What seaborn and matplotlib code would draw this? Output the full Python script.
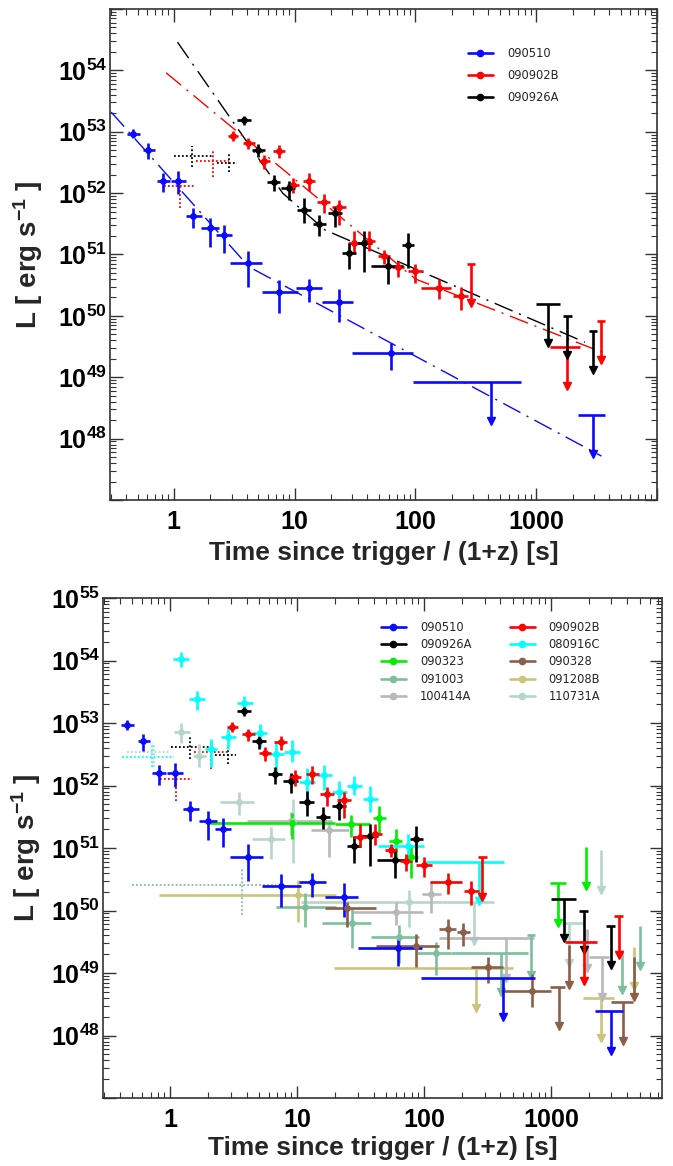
import numpy as np
import pandas as pd
import matplotlib
matplotlib.use("Agg")
import matplotlib.pyplot as plt
import seaborn as sns
from matplotlib.lines import Line2D
from matplotlib.ticker import FixedLocator, LogLocator, FuncFormatter, NullFormatter

# LAT afterglow luminosity light curves (rest-frame time).
# Detections: rows of log10 [t, t_lo, t_hi, L, L_lo, L_hi]   (t in s, L in erg/s)
# Upper limits: rows of log10 [t, t_lo, t_hi, L]             (t_lo..t_hi = bar width)

det_090510 = [
    [-0.337, -0.392, -0.282, 52.97, 52.89, 53.05],
    [-0.214, -0.256, -0.159, 52.71, 52.56, 52.82],
    [-0.087, -0.142, -0.037, 52.20, 52.01, 52.33],
    [0.036, -0.028, 0.097, 52.20, 51.98, 52.36],
    [0.159, 0.098, 0.228, 51.62, 51.43, 51.76],
    [0.297, 0.225, 0.372, 51.43, 51.13, 51.59],
    [0.413, 0.352, 0.477, 51.31, 51.02, 51.48],
    [0.612, 0.468, 0.731, 50.86, 50.47, 51.06],
    [0.870, 0.726, 1.031, 50.39, 50.05, 50.59],
    [1.116, 1.013, 1.227, 50.45, 50.22, 50.60],
    [1.366, 1.222, 1.482, 50.22, 49.90, 50.44],
    [1.797, 1.477, 1.983, 49.40, 49.11, 49.56],
]
ul_090510 = [
    [2.625, 1.980, 2.875, 48.925],
    [3.472, 3.347, 3.569, 48.39],
]

det_090902B = [
    [0.489, 0.447, 0.531, 52.93, 52.85, 53.01],
    [0.616, 0.569, 0.671, 52.82, 52.72, 52.90],
    [0.743, 0.701, 0.793, 52.52, 52.40, 52.62],
    [0.870, 0.820, 0.917, 52.69, 52.57, 52.79],
    [0.986, 0.936, 1.033, 52.14, 52.00, 52.25],
    [1.116, 1.066, 1.169, 52.19, 52.03, 52.32],
    [1.239, 1.184, 1.294, 51.86, 51.67, 51.98],
    [1.366, 1.311, 1.421, 51.77, 51.48, 51.89],
    [1.493, 1.438, 1.548, 51.18, 51.01, 51.38],
    [1.612, 1.557, 1.667, 51.22, 51.05, 51.39],
    [1.739, 1.689, 1.789, 50.97, 50.85, 51.07],
    [1.859, 1.809, 1.909, 50.79, 50.63, 50.90],
    [1.996, 1.936, 2.060, 50.73, 50.54, 50.85],
    [2.192, 2.048, 2.297, 50.46, 50.27, 50.60],
    [2.373, 2.312, 2.431, 50.32, 50.09, 50.47],
]
ul_090902B = [
    [2.458, 2.423, 2.493, 50.85],
    [3.258, 3.110, 3.360, 49.50],
    [3.536, 3.501, 3.571, 49.92],
]
dot_090902B = [
    [0.320, 0.186, 0.452, 52.53, 52.26, 52.69],
    [0.046, -0.080, 0.172, 52.11, 51.75, 52.20],
]

det_090926A = [
    [0.580, 0.525, 0.635, 53.19, 53.11, 53.26],
    [0.699, 0.644, 0.754, 52.71, 52.59, 52.80],
    [0.826, 0.771, 0.881, 52.18, 52.03, 52.30],
    [0.949, 0.888, 1.004, 52.08, 51.88, 52.20],
    [1.076, 1.018, 1.134, 51.73, 51.51, 51.92],
    [1.203, 1.148, 1.258, 51.50, 51.30, 51.65],
    [1.330, 1.272, 1.388, 51.67, 51.45, 51.78],
    [1.449, 1.394, 1.504, 51.03, 50.76, 51.19],
    [1.576, 1.514, 1.638, 51.19, 50.72, 51.39],
    [1.775, 1.631, 1.895, 50.81, 50.52, 50.97],
    [1.938, 1.888, 1.988, 51.15, 50.78, 51.35],
]
ul_090926A = [
    [3.100, 2.998, 3.195, 50.19],
    [3.258, 3.223, 3.293, 50.00],
    [3.472, 3.437, 3.507, 49.76],
]
dot_090926A = [
    [0.152, 0.004, 0.326, 52.61, 52.42, 52.77],
    [0.452, 0.354, 0.521, 52.49, 52.34, 52.64],
]

det_080916C = [
    [0.082, 0.024, 0.148, 54.02, 53.90, 54.14],
    [0.211, 0.149, 0.273, 53.39, 53.21, 53.51],
    [0.320, 0.270, 0.370, 52.58, 52.29, 52.75],
    [0.459, 0.399, 0.519, 52.78, 52.58, 52.92],
    [0.585, 0.527, 0.651, 53.32, 53.21, 53.43],
    [0.704, 0.644, 0.764, 52.84, 52.62, 52.99],
    [0.833, 0.773, 0.893, 52.51, 52.19, 52.70],
    [0.959, 0.899, 1.019, 52.54, 52.38, 52.73],
    [1.078, 1.018, 1.138, 52.06, 51.79, 52.28],
    [1.214, 1.154, 1.274, 52.17, 51.93, 52.33],
    [1.333, 1.273, 1.393, 51.90, 51.71, 52.08],
    [1.452, 1.392, 1.512, 52.00, 51.85, 52.15],
    [1.578, 1.518, 1.638, 51.79, 51.57, 52.00],
    [1.871, 1.640, 2.000, 51.04, 50.82, 51.22],
]
ul_080916C = [
    [2.435, 2.009, 2.632, 50.78],
]
dot_080916C = [
    [-0.144, -0.380, 0.028, 52.46, 52.30, 52.675],
]

det_090323 = [
    [0.962, 0.317, 1.300, 51.40, 51.14, 51.56],
    [1.422, 1.300, 1.572, 51.38, 51.18, 51.53],
    [1.646, 1.596, 1.700, 51.48, 51.23, 51.67],
    [1.776, 1.726, 1.826, 51.11, 50.78, 51.30],
    [1.900, 1.850, 1.950, 50.86, 50.52, 51.05],
]
ul_090323 = [
    [3.053, 2.990, 3.115, 50.44],
    [3.277, 3.277, 3.277, 51.02],
]

det_090328 = [
    [1.396, 1.219, 1.624, 50.045, 49.74, 50.14],
    [1.935, 1.620, 2.119, 49.44, 49.10, 49.62],
    [2.186, 2.120, 2.250, 49.70, 49.39, 49.87],
    [2.309, 2.260, 2.360, 49.66, 49.43, 49.80],
    [2.508, 2.369, 2.619, 49.10, 48.84, 49.26],
    [2.848, 2.606, 3.001, 48.72, 48.46, 48.99],
]
ul_090328 = [
    [3.066, 2.996, 3.107, 48.78],
    [3.140, 3.140, 3.140, 49.45],
    [3.571, 3.474, 3.650, 48.54],
    [3.658, 3.658, 3.658, 49.25],
]

det_091003 = [
    [1.062, 0.830, 1.304, 50.05, 49.74, 50.28],
    [1.430, 1.198, 1.580, 49.805, 49.395, 50.035],
    [1.803, 1.580, 1.961, 49.57, 49.155, 49.77],
    [2.098, 1.948, 2.212, 49.315, 48.97, 49.50],
]
ul_091003 = [
    [2.606, 2.212, 2.816, 49.325],
    [2.843, 2.808, 2.878, 49.61],
    [3.560, 3.560, 3.560, 49.37],
    [3.703, 3.703, 3.703, 49.75],
]
dot_091003 = [
    [0.562, -0.301, 0.830, 50.41, 49.93, 50.675],
]

det_091208B = [
    [1.009, -0.091, 1.304, 50.25, 49.82, 50.49],
]
ul_091208B = [
    [2.409, 1.290, 2.698, 49.075],
    [3.395, 3.250, 3.500, 48.595],
    [3.658, 3.658, 3.658, 49.42],
]

det_100414A = [
    [0.949, 0.606, 1.277, 51.44, 51.21, 51.58],
    [1.251, 1.107, 1.409, 51.29, 50.86, 51.39],
    [1.778, 1.435, 1.988, 49.97, 49.77, 50.14],
    [2.055, 1.987, 2.133, 50.26, 49.96, 50.46],
]
ul_100414A = [
    [2.646, 2.119, 2.869, 49.555],
    [3.282, 3.282, 3.282, 49.71],
    [3.403, 3.303, 3.460, 49.25],
]

det_110731A = [
    [0.088, 0.028, 0.152, 52.86, 52.68, 53.00],
    [0.228, 0.178, 0.278, 52.48, 52.30, 52.66],
    [0.541, 0.396, 0.659, 51.74, 51.53, 51.90],
    [0.791, 0.646, 0.904, 51.14, 50.83, 51.34],
    [0.967, 0.930, 1.005, 51.44, 50.76, 51.78],
    [1.882, 1.028, 2.143, 50.14, 49.74, 50.33],
]
ul_110731A = [
    [2.395, 2.143, 2.553, 50.14],
    [3.145, 3.090, 3.250, 49.80],
    [3.395, 3.395, 3.395, 50.97],
]
dot_110731A = [
    [-0.130, -0.341, 0.002, 52.54, 52.30, 52.68],
]

# Broken power-law fits (log10 t, log10 L vertices)
fit_090510 = ([-0.52, 0.62, 3.54], [53.32, 50.80, 47.715])
fit_090902B = ([-0.065, 2.00, 3.542], [53.96, 50.60, 49.41])
fit_090926A = ([0.029, 0.90, 1.25, 3.403], [54.46, 52.00, 51.40, 49.57])

COLORS = {
    "090510": "#0a0aff",
    "090902B": "#ff0000",
    "090926A": "#000000",
    "080916C": "#00ffff",
    "090323": "#00ee00",
    "090328": "#8b5e4b",
    "091003": "#7dbf9c",
    "091208B": "#cbc47c",
    "100414A": "#b8b8b8",
    "110731A": "#b6d6cc",
}

ARROW_DEX = 0.67      # drawn length of upper-limit arrows
ERR_LW = 1.9

sns.set_theme(style="ticks")
plt.rcParams.update({
    "font.family": ["DejaVu Sans"],
    "mathtext.fontset": "custom",
    "mathtext.bf": "Liberation Sans:bold",
    "mathtext.rm": "Liberation Sans",
    "mathtext.it": "Liberation Sans:italic",
    "axes.edgecolor": "#333333",
    "axes.linewidth": 1.2,
    "xtick.color": "#333333",
    "ytick.color": "#333333",
    "xtick.labelcolor": "black",
    "ytick.labelcolor": "black",
})


def draw_points(ax, rows, color, dotted=False, z=3):
    r = np.asarray(rows, float)
    t, L = 10 ** r[:, 0], 10 ** r[:, 3]
    xerr = [t - 10 ** r[:, 1], 10 ** r[:, 2] - t]
    yerr = [L - 10 ** r[:, 4], 10 ** r[:, 5] - L]
    eb = ax.errorbar(t, L, xerr=xerr, yerr=yerr, fmt="none", ecolor=color,
                     elinewidth=1.3 if dotted else ERR_LW, capsize=0, zorder=z)
    if dotted:
        for coll in eb[2]:
            coll.set_linestyle((0, (1.0, 1.2)))
        return
    sns.scatterplot(x=t, y=L, color=color, s=24, linewidth=0, ax=ax,
                    zorder=z + 0.5, legend=False)


def draw_limits(ax, rows, color, z=3):
    r = np.asarray(rows, float)
    t, L = 10 ** r[:, 0], 10 ** r[:, 3]
    tip = L * 10 ** (-ARROW_DEX)
    has_bar = r[:, 2] > r[:, 1]
    ax.hlines(L[has_bar], 10 ** r[has_bar, 1], 10 ** r[has_bar, 2],
              color=color, lw=ERR_LW, zorder=z)
    ax.vlines(t, tip, L, color=color, lw=ERR_LW, zorder=z)
    ax.plot(t, tip * 10 ** 0.035, ls="none", marker="v", ms=5.5,
            color=color, mec=color, zorder=z)


def draw_fit(ax, fit, color):
    lx, ly = fit
    ax.plot(10 ** np.asarray(lx), 10 ** np.asarray(ly), color=color, lw=1.0,
            dashes=(14, 5, 1.5, 5), zorder=2)


def style_axes(ax, xmax, ylabels):
    ax.set_xscale("log")
    ax.set_yscale("log")
    ax.set_xlim(0.295, xmax)
    ax.set_ylim(1e47, 1e55)
    ax.xaxis.set_major_locator(FixedLocator([1, 10, 100, 1000, 1e4]))
    ax.xaxis.set_minor_locator(LogLocator(base=10, subs=np.arange(2, 10), numticks=100))
    ax.yaxis.set_major_locator(FixedLocator([10.0 ** k for k in range(47, 56)]))
    ax.yaxis.set_minor_locator(LogLocator(base=10, subs=np.arange(2, 10), numticks=100))
    ax.xaxis.set_major_formatter(FuncFormatter(
        lambda v, p: r"$\mathbf{%d}$" % int(round(v)) if v < 5000 else ""))
    ax.yaxis.set_major_formatter(FuncFormatter(
        lambda v, p: r"$\mathbf{10^{%d}}$" % int(round(np.log10(v)))
        if int(round(np.log10(v))) in ylabels else ""))
    ax.xaxis.set_minor_formatter(NullFormatter())
    ax.yaxis.set_minor_formatter(NullFormatter())
    ax.tick_params(which="both", direction="in", top=True, right=True)
    ax.tick_params(which="major", length=9, width=1.0, labelsize=18)
    ax.tick_params(which="minor", length=4.5, width=0.8)
    ax.tick_params(axis="x", which="major", pad=7)
    ax.tick_params(axis="y", which="major", pad=2)
    ax.set_xlabel("Time since trigger / (1+z) [s]", fontsize=19,
                  fontweight="bold", fontfamily="Liberation Sans")
    ax.set_ylabel(r"$\mathbf{L\ [\ erg\ s^{-1}\ ]}$", fontsize=20)


def legend_handle(color):
    return Line2D([0], [0], color=color, lw=1.9, marker="o", ms=4.5)


fig = plt.figure(figsize=(6.73, 11.66), dpi=100)

# ---------------- upper panel: three GRBs with fits ----------------
ax1 = fig.add_axes([0.1634, 0.5712, 0.8128, 0.4211])
draw_fit(ax1, fit_090926A, COLORS["090926A"])
draw_fit(ax1, fit_090902B, COLORS["090902B"])
draw_fit(ax1, fit_090510, COLORS["090510"])
draw_points(ax1, dot_090926A, COLORS["090926A"], dotted=True)
draw_points(ax1, dot_090902B, COLORS["090902B"], dotted=True)
for name, det, ul in [("090510", det_090510, ul_090510),
                      ("090902B", det_090902B, ul_090902B),
                      ("090926A", det_090926A, ul_090926A)]:
    draw_points(ax1, det, COLORS[name])
    draw_limits(ax1, ul, COLORS[name])
style_axes(ax1, 1.0e4, range(48, 55))
ax1.yaxis.set_label_coords(-0.118, 0.5)
ax1.xaxis.set_label_coords(0.5, -0.083)
names1 = ["090510", "090902B", "090926A"]
ax1.legend([legend_handle(COLORS[n]) for n in names1], names1,
           loc="upper left", bbox_to_anchor=(0.654, 0.922), frameon=False,
           fontsize=8.3, handlelength=2.2, handletextpad=1.2,
           labelspacing=0.75, borderaxespad=0, borderpad=0)

# ---------------- lower panel: full sample ----------------
ax2 = fig.add_axes([0.1530, 0.0583, 0.8306, 0.4288])
for name, dots in [("110731A", dot_110731A), ("080916C", dot_080916C),
                   ("091003", dot_091003), ("090926A", dot_090926A),
                   ("090902B", dot_090902B)]:
    draw_points(ax2, dots, COLORS[name], dotted=True)
sample = [
    ("091208B", det_091208B, ul_091208B),
    ("110731A", det_110731A, ul_110731A),
    ("100414A", det_100414A, ul_100414A),
    ("091003", det_091003, ul_091003),
    ("090328", det_090328, ul_090328),
    ("090323", det_090323, ul_090323),
    ("080916C", det_080916C, ul_080916C),
    ("090510", det_090510, ul_090510),
    ("090926A", det_090926A, ul_090926A),
    ("090902B", det_090902B, ul_090902B),
]
for name, det, ul in sample:
    draw_points(ax2, det, COLORS[name])
    draw_limits(ax2, ul, COLORS[name])
style_axes(ax2, 7500, range(48, 56))
ax2.yaxis.set_label_coords(-0.108, 0.5)
ax2.xaxis.set_label_coords(0.5, -0.076)
names2 = ["090510", "090926A", "090323", "091003", "100414A",
          "090902B", "080916C", "090328", "091208B", "110731A"]
ax2.legend([legend_handle(COLORS[n]) for n in names2], names2, ncol=2,
           loc="upper left", bbox_to_anchor=(0.497, 0.955), frameon=False,
           fontsize=8.3, handlelength=2.2, handletextpad=1.2,
           labelspacing=0.38, columnspacing=3.3, borderaxespad=0, borderpad=0)

fig.savefig("out.png", dpi=100)
